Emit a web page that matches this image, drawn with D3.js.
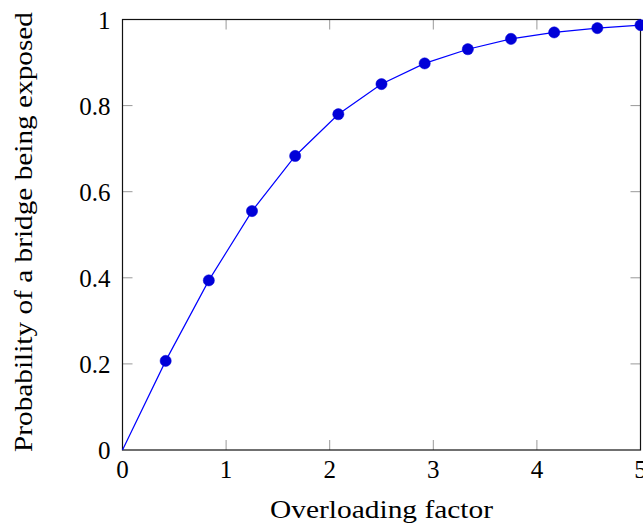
<!DOCTYPE html>
<html><head><meta charset="utf-8">
<script src="https://cdn.jsdelivr.net/npm/d3@7"></script>
<style>body{margin:0;background:#fff}svg{display:block}text{font-family:"Liberation Serif","DejaVu Serif",serif;fill:#000}</style>
</head><body>
<svg id="c" width="643" height="524"></svg>
<script>
const xValues = [0, 0.4167, 0.8333, 1.25, 1.6667, 2.0833, 2.5, 2.9167, 3.3333, 3.75, 4.1667, 4.5833, 5];
const yValues = [0, 0.207, 0.394, 0.555, 0.683, 0.780, 0.850, 0.898, 0.931, 0.955, 0.970, 0.980, 0.987];
const xTicks = [0, 1, 2, 3, 4, 5];
const yTicks = [0, 0.2, 0.4, 0.6, 0.8, 1];
const xLabel = "Overloading factor";
const yLabel = "Probability of a bridge being exposed";

const svg = d3.select("#c");
const L = 122.5, R = 640.5, T = 19.5, B = 450;
const x = d3.scaleLinear().domain([0, 5]).range([L, R]);
const y = d3.scaleLinear().domain([0, 1]).range([B, T]);
const tl = 10;
const fs = 25;

const g = svg.append("g");
const tickColor = "#999";
xTicks.forEach(t => {
  if (t === 0 || t === 5) return;
  g.append("line").attr("x1", x(t)).attr("x2", x(t)).attr("y1", B).attr("y2", B - tl).attr("stroke", tickColor).attr("stroke-width", 1);
  g.append("line").attr("x1", x(t)).attr("x2", x(t)).attr("y1", T).attr("y2", T + tl).attr("stroke", tickColor).attr("stroke-width", 1);
});
yTicks.forEach(t => {
  if (t === 0 || t === 1) return;
  g.append("line").attr("x1", L).attr("x2", L + tl).attr("y1", y(t)).attr("y2", y(t)).attr("stroke", tickColor).attr("stroke-width", 1);
  g.append("line").attr("x1", R).attr("x2", R - tl).attr("y1", y(t)).attr("y2", y(t)).attr("stroke", tickColor).attr("stroke-width", 1);
});
g.append("rect").attr("x", L).attr("y", T).attr("width", R - L).attr("height", B - T)
  .attr("fill", "none").attr("stroke", "#111").attr("stroke-width", 1.2);

xTicks.forEach(t => {
  g.append("text").attr("x", x(t)).attr("y", B + 28).attr("text-anchor", "middle")
    .attr("font-size", fs).text(String(t));
});
yTicks.forEach(t => {
  g.append("text").attr("x", L - 12).attr("y", y(t) + 9).attr("text-anchor", "end")
    .attr("font-size", fs).text(t === 0 || t === 1 ? String(t) : t.toFixed(1));
});

g.append("text").attr("x", (L + R) / 2).attr("y", 518).attr("text-anchor", "middle")
  .attr("font-size", fs).attr("textLength", 223).attr("lengthAdjust", "spacingAndGlyphs").text(xLabel);
g.append("text").attr("transform", `translate(32,232) rotate(-90)`)
  .attr("text-anchor", "middle").attr("font-size", fs)
  .attr("textLength", 440).attr("lengthAdjust", "spacingAndGlyphs").text(yLabel);

const data = xValues.map((v, i) => ({x: v, y: yValues[i]}));
const line = d3.line().x(d => x(d.x)).y(d => y(d.y));
g.append("path").datum(data).attr("d", line).attr("fill", "none").attr("stroke", "#0000ff").attr("stroke-width", 1.2);

g.selectAll("circle.m").data(data.slice(1)).join("circle").attr("class", "m")
  .attr("cx", d => x(d.x)).attr("cy", d => y(d.y)).attr("r", 5.6)
  .attr("fill", "#0000d8").attr("stroke", "#0000d8").attr("stroke-width", 0.5);
</script>
</body></html>
